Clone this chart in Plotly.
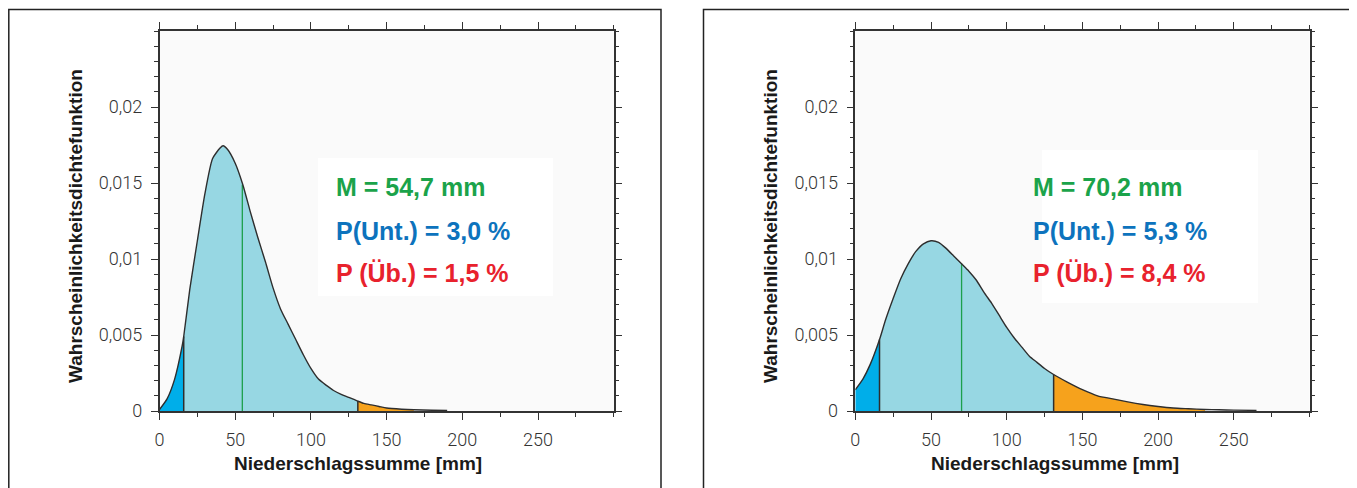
import plotly.graph_objects as go

# The page body has an 8 px margin, so the figure is drawn 8 px in from the window edge.
OFF = 8
W, H = 1357 - OFF, 488 - OFF

# ---------------- data ----------------
left_x = [0, 5, 10, 15, 16, 20, 25, 30, 35, 40, 42, 45, 50, 55, 60, 65, 70, 75, 80, 85, 90, 95,
          100, 105, 110, 115, 120, 125, 131, 135, 140, 145, 150, 160, 168, 180, 190]
left_y = [0.0001, 0.0008, 0.0021, 0.0043, 0.0049, 0.0080, 0.0112, 0.0143, 0.0166, 0.0173, 0.01745,
          0.0172, 0.0163, 0.0149, 0.0131, 0.0114, 0.0098, 0.0081, 0.0067, 0.0057, 0.0047, 0.0037,
          0.0028, 0.0021, 0.0017, 0.00135, 0.0011, 0.0009, 0.00065, 0.0005, 0.0004, 0.0003, 0.0002,
          0.00012, 0.00008, 0.00005, 0.00003]
left_mean, left_mean_y = 54.7, 0.0149
left_low, left_high, left_tail_end = 16, 131, 168
left_texts = ["M = 54,7 mm", "P(Unt.) = 3,0 %", "P (Üb.) = 1,5 %"]

right_x = [0, 5, 10, 16, 20, 25, 30, 35, 40, 45, 50, 55, 60, 65, 70, 75, 80, 85, 90, 95, 100,
           105, 110, 115, 120, 125, 131, 140, 150, 160, 170, 180, 190, 200, 210, 220, 231, 240,
           250, 265]
right_y = [0.0014, 0.0021, 0.0031, 0.0047, 0.0060, 0.0074, 0.0087, 0.0097, 0.0105, 0.0110, 0.0112,
           0.0111, 0.0107, 0.0102, 0.0097, 0.0092, 0.0086, 0.0078, 0.0071, 0.0063, 0.0055, 0.0048,
           0.0042, 0.0036, 0.0032, 0.0028, 0.0024, 0.0019, 0.0014, 0.0010, 0.0008, 0.0006, 0.00043,
           0.0003, 0.0002, 0.00015, 0.0001, 0.00008, 0.00006, 0.00004]
right_mean, right_mean_y = 70.2, 0.0097
right_low, right_high, right_tail_end = 16, 131, 231
right_texts = ["M = 70,2 mm", "P(Unt.) = 5,3 %", "P (Üb.) = 8,4 %"]

x_ticks = [0, 50, 100, 150, 200, 250]
y_ticks = [0, 0.005, 0.01, 0.015, 0.02]
y_ticktext = ["0", "0,005", "0,01", "0,015", "0,02"]
x_title = "Niederschlagssumme [mm]"
y_title = "Wahrscheinlichkeitsdichtefunktion"

# ---------------- styling ----------------
C_LIGHT = "#97d7e3"
C_BLUE = "#00aee9"
C_ORANGE = "#f6a21c"
C_GREEN_LINE = "#1c9f4c"
C_OUT = "#2e2e2e"
TXT_COLORS = ["#1ba34a", "#0d73bd", "#e8222d"]
AX = "#333333"
SMOOTH = 0.6


def px(x):
    return (x - OFF) / W


def py(y):
    return 1 - (y - OFF) / H


fig = go.Figure()


def seg(xs, ys, a, b):
    sx = [x for x in xs if a <= x <= b]
    sy = [y for x, y in zip(xs, ys) if a <= x <= b]
    return sx, sy


def add_panel(xs, ys, low, high, tail_end, mean, mean_y, xa, ya):
    for a, b, c in [(xs[0], low, C_BLUE), (low, high, C_LIGHT), (high, tail_end, C_ORANGE)]:
        sx, sy = seg(xs, ys, a, b)
        fig.add_trace(go.Scatter(x=sx, y=sy, mode="lines", fill="tozeroy", fillcolor=c,
                                 line=dict(width=0, color=c, shape="spline", smoothing=SMOOTH),
                                 xaxis=xa, yaxis=ya, showlegend=False, hoverinfo="skip"))
    for b in (low, high):
        yb = ys[xs.index(b)]
        fig.add_trace(go.Scatter(x=[b, b], y=[0, yb], mode="lines",
                                 line=dict(width=1.5, color=C_OUT), xaxis=xa, yaxis=ya,
                                 showlegend=False, hoverinfo="skip"))
    fig.add_trace(go.Scatter(x=[mean, mean], y=[0, mean_y], mode="lines",
                             line=dict(width=1.3, color=C_GREEN_LINE), xaxis=xa, yaxis=ya,
                             showlegend=False, hoverinfo="skip"))
    fig.add_trace(go.Scatter(x=xs, y=ys, mode="lines",
                             line=dict(width=1.4, color=C_OUT, shape="spline", smoothing=SMOOTH),
                             xaxis=xa, yaxis=ya, showlegend=False, hoverinfo="skip"))


add_panel(left_x, left_y, left_low, left_high, left_tail_end, left_mean, left_mean_y, "x", "y")
add_panel(right_x, right_y, right_low, right_high, right_tail_end, right_mean, right_mean_y, "x2", "y2")

tickfont = dict(family="Roboto", size=18, color=AX, weight=300)
ydom = [py(411), py(31)]

xaxis_common = dict(range=[0, 300], tickmode="array", tickvals=x_ticks, ticks="outside",
                    ticklen=7, tickwidth=1.2, tickcolor=AX, showline=True, linecolor=AX,
                    linewidth=1.5, mirror="ticks", showgrid=False, zeroline=False,
                    automargin=False, tickfont=tickfont, ticklabelstandoff=5,
                    minor=dict(dtick=25, tick0=0, ticks="outside", ticklen=4, tickcolor=AX,
                               tickwidth=1.1, showgrid=False))
yaxis_common = dict(range=[0, 0.025], tickmode="array", tickvals=y_ticks, ticktext=y_ticktext,
                    ticks="outside", ticklen=7, tickwidth=1.2, tickcolor=AX, showline=True,
                    linecolor=AX, linewidth=1.5, mirror="ticks", showgrid=False, zeroline=False,
                    automargin=False, tickfont=tickfont, ticklabelstandoff=5,
                    minor=dict(dtick=0.001, tick0=0, ticks="outside", ticklen=4, tickcolor=AX,
                               tickwidth=1.1, showgrid=False))

fig.update_layout(
    width=W, height=H, margin=dict(l=0, r=0, t=0, b=0, autoexpand=False),
    paper_bgcolor="white", plot_bgcolor="#fafafa",
    xaxis=dict(domain=[px(159.5), px(613.7)], anchor="y", **xaxis_common),
    yaxis=dict(domain=ydom, anchor="x", **yaxis_common),
    xaxis2=dict(domain=[px(855.3), px(1309.5)], anchor="y2", **xaxis_common),
    yaxis2=dict(domain=ydom, anchor="x2", **yaxis_common),
)

shapes = []
annotations = []
panels = [
    dict(frame=(8.8, 661), box=(318, 553, 158, 296), text_x=334, texts=left_texts,
         ytitle_x=76, xtitle_x=358),
    dict(frame=(703.5, 1350), box=(1042, 1258, 150, 303), text_x=1031, texts=right_texts,
         ytitle_x=771, xtitle_x=1055),
]
for p in panels:
    fx0, fx1 = p["frame"]
    shapes.append(dict(type="rect", xref="paper", yref="paper", x0=px(fx0), x1=px(fx1),
                       y0=-0.1, y1=py(9.5), line=dict(color="#222", width=1.5),
                       fillcolor="rgba(0,0,0,0)", layer="below"))
    bx0, bx1, by0, by1 = p["box"]
    shapes.append(dict(type="rect", xref="paper", yref="paper", x0=px(bx0), x1=px(bx1),
                       y0=py(by1), y1=py(by0), line=dict(width=0), fillcolor="white",
                       layer="below"))
    for t, c, yy in zip(p["texts"], TXT_COLORS, [187, 231, 273]):
        annotations.append(dict(text=t, xref="paper", yref="paper", x=px(p["text_x"]),
                                y=py(yy), xanchor="left", yanchor="middle", showarrow=False,
                                font=dict(family="Liberation Sans", size=25, color=c,
                                          weight="bold")))
    annotations.append(dict(text=x_title, xref="paper", yref="paper", x=px(p["xtitle_x"]),
                            y=py(463), xanchor="center", yanchor="middle", showarrow=False,
                            font=dict(family="Liberation Sans", size=19, color="#1a1a1a",
                                      weight="bold")))
    annotations.append(dict(text=y_title, xref="paper", yref="paper", x=px(p["ytitle_x"]),
                            y=py(226), xanchor="center", yanchor="middle", showarrow=False,
                            textangle=-90,
                            font=dict(family="Liberation Sans", size=19, color="#1a1a1a",
                                      weight="bold")))

fig.update_layout(shapes=shapes, annotations=annotations)
fig.write_html("out.html")
